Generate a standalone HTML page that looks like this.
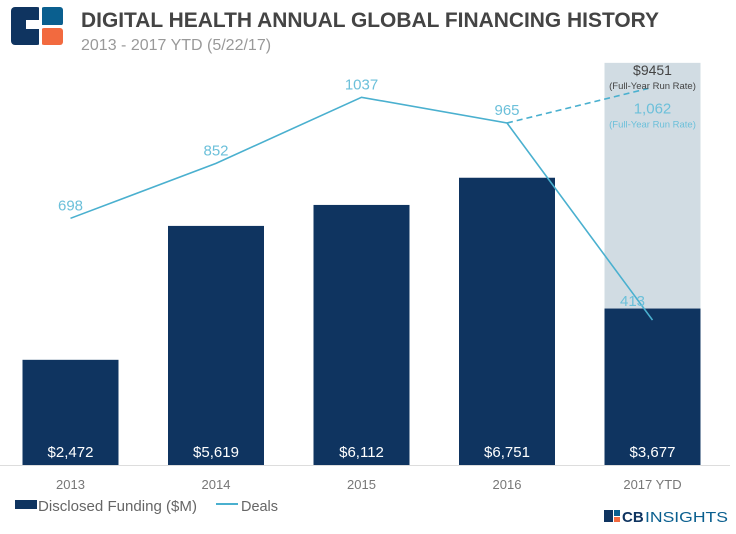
<!DOCTYPE html>
<html><head><meta charset="utf-8"><style>
body{margin:0;background:#fff;width:736px;height:529px;overflow:hidden;font-family:"Liberation Sans",sans-serif;}
</style></head><body>
<svg width="736" height="529">
<g>
<rect x="11" y="7" width="30" height="38" rx="4" fill="#0f3460"/>
<rect x="41" y="7" width="22" height="19" rx="3" fill="#0a5f8f"/>
<rect x="41" y="28" width="22" height="17" rx="3" fill="#f26a3f"/>
<rect x="26" y="20" width="16" height="9" fill="#fff"/>
<rect x="39" y="7" width="3" height="38" fill="#fff"/>
<rect x="41" y="25" width="22" height="3" fill="#fff"/>
</g>
<text x="81" y="27" font-size="21" font-weight="bold" fill="#444" textLength="578" lengthAdjust="spacingAndGlyphs">DIGITAL HEALTH ANNUAL GLOBAL FINANCING HISTORY</text>
<text x="81" y="50" font-size="16" fill="#999">2013 - 2017 YTD (5/22/17)</text>
<line x1="0" y1="465.5" x2="730" y2="465.5" stroke="#ddd"/>
<g id="bars"></g><g id="line"></g>
<g>
<rect x="15" y="500" width="22" height="9" fill="#0f3460"/>
<text x="38" y="511" font-size="15" fill="#666" textLength="159" lengthAdjust="spacingAndGlyphs">Disclosed Funding ($M)</text>
<line x1="216" y1="504" x2="238" y2="504" stroke="#4ab0cf" stroke-width="2"/>
<text x="241" y="511" font-size="15" fill="#666" textLength="37" lengthAdjust="spacingAndGlyphs">Deals</text>
</g>
<g>
<rect x="604" y="510" width="9" height="12" fill="#0f3460"/><rect x="614" y="510" width="6" height="6" fill="#0a5f8f"/><rect x="614" y="517" width="6" height="5" fill="#f26a3f"/>
<text x="622" y="522" font-size="15" font-weight="bold" fill="#0f3460">CB</text>
<text x="645" y="522" font-size="15" fill="#0a5f8f" textLength="83" lengthAdjust="spacingAndGlyphs">INSIGHTS</text>
</g>
</svg>
<script>
const categories=["2013","2014","2015","2016","2017 YTD"];
const funding=[2472,5619,6112,6751,3677];
const fundingLabels=["$2,472","$5,619","$6,112","$6,751","$3,677"];
const deals=[698,852,1037,965,413];
const runRateFunding=9451;
const runRateDeals=1062;
const NS="http://www.w3.org/2000/svg";
const base=465, fk=0.04255, dk=0.357, d0=467.5;
const fy=v=>base-v*fk, dy=v=>d0-v*dk;
const cx=i=>70.5+i*145.5;
function mk(t,a,p){const e=document.createElementNS(NS,t);for(const k in a)e.setAttribute(k,a[k]);p.appendChild(e);return e;}
const bars=document.getElementById('bars'), line=document.getElementById('line');
const last=categories.length-1;
const rr=mk('rect',{x:cx(last)-48,y:fy(runRateFunding),width:96,height:base-fy(runRateFunding),fill:'#d1dce3'},bars);


funding.forEach((v,i)=>{
 const r=mk('rect',{x:cx(i)-48,y:fy(v),width:96,height:base-fy(v),fill:'#0f3460'},bars);
 
 
 const t=mk('text',{x:cx(i),y:457,'text-anchor':'middle','font-size':15,fill:'#fff'},bars);t.textContent=fundingLabels[i];
 
 
 const xl=mk('text',{x:cx(i),y:489,'text-anchor':'middle','font-size':13,fill:'#777'},bars);xl.textContent=categories[i];
 
 
});
const pts=deals.map((v,i)=>cx(i)+','+dy(v)).join(' ');
const pl=mk('polyline',{points:pts,fill:'none',stroke:'#4ab0cf','stroke-width':1.6},line);


const dl=mk('line',{x1:cx(3),y1:dy(deals[3]),x2:cx(last)-4,y2:dy(runRateDeals),stroke:'#4ab0cf','stroke-width':1.6,'stroke-dasharray':'6,4'},line);


deals.forEach((v,i)=>{
 const isLast=i===last;
 const t=mk('text',{x:isLast?cx(i)-20:cx(i),y:isLast?dy(v)-14:dy(v)-8,'text-anchor':'middle','font-size':15,fill:'#6cc0da'},line);t.textContent=v;
 
 
});
const t1=mk('text',{x:cx(last),y:fy(runRateFunding)+12,'text-anchor':'middle','font-size':14,fill:'#444'},line);t1.textContent='$'+runRateFunding;


const t2=mk('text',{x:cx(last),y:fy(runRateFunding)+26,'text-anchor':'middle','font-size':9.5,fill:'#444'},line);t2.textContent='(Full-Year Run Rate)';


const t3=mk('text',{x:cx(last),y:dy(runRateDeals)+25,'text-anchor':'middle','font-size':15,fill:'#6cc0da'},line);t3.textContent='1,062';


const t4=mk('text',{x:cx(last),y:dy(runRateDeals)+39,'text-anchor':'middle','font-size':9.5,fill:'#6cc0da'},line);t4.textContent='(Full-Year Run Rate)';


</script>
</body></html>
